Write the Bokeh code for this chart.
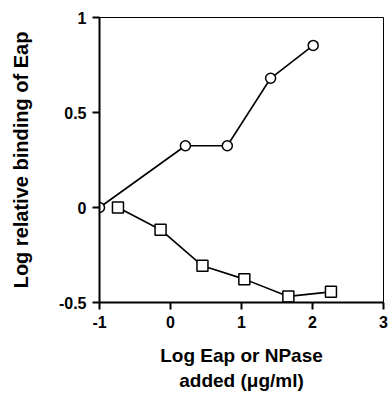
from bokeh.plotting import figure
from bokeh.models import Range1d, FixedTicker
from bokeh.embed import file_html
from bokeh.resources import INLINE

# Data
eap_x = [-1.0, 0.21, 0.80, 1.41, 2.01]
eap_y = [0.0, 0.325, 0.325, 0.68, 0.853]
npase_x = [-0.74, -0.14, 0.45, 1.04, 1.66, 2.26]
npase_y = [0.0, -0.117, -0.307, -0.377, -0.468, -0.444]

x_ticks = [-1, 0, 1, 2, 3]
x_tick_labels = ["-1", "0", "1", "2", "3"]
y_ticks = [-0.5, 0, 0.5, 1]
y_tick_labels = ["-0.5", "0", "0.5", "1"]

FONT = "Liberation Sans"

p = figure(frame_width=284, frame_height=285, output_backend="svg",
           toolbar_location=None,
           x_range=Range1d(-1, 3), y_range=Range1d(-0.5, 1),
           min_border_left=99, min_border_right=5,
           min_border_top=17, min_border_bottom=91)

p.background_fill_color = "white"
p.border_fill_color = "white"
p.outline_line_color = "black"
p.outline_line_width = 1
p.xgrid.visible = False
p.ygrid.visible = False

for ax in (p.xaxis[0], p.yaxis[0]):
    ax.axis_line_width = 2
    ax.axis_line_color = "black"
    ax.major_tick_line_width = 2
    ax.major_tick_line_color = "black"
    ax.major_tick_out = 7
    ax.major_tick_in = 0
    ax.minor_tick_line_color = None
    ax.major_label_text_font = FONT
    ax.major_label_text_font_style = "bold"
    ax.major_label_text_font_size = "16px"
    ax.major_label_text_color = "black"
    ax.axis_label_text_font = FONT
    ax.axis_label_text_font_style = "bold"
    ax.axis_label_text_font_size = "20px"
    ax.axis_label_text_color = "black"

p.xaxis[0].ticker = FixedTicker(ticks=x_ticks)
p.xaxis[0].major_label_overrides = dict(zip(x_ticks, x_tick_labels))
p.xaxis[0].major_label_standoff = 6
p.xaxis[0].axis_label = "Log Eap or NPase\nadded (\u03bcg/ml)"
p.xaxis[0].axis_label_text_font_size = "19px"
p.xaxis[0].axis_label_standoff = 14

p.yaxis[0].ticker = FixedTicker(ticks=y_ticks)
p.yaxis[0].major_label_overrides = dict(zip(y_ticks, y_tick_labels))
p.yaxis[0].major_label_standoff = 6
p.yaxis[0].major_label_orientation = "horizontal"
p.yaxis[0].axis_label = "Log relative binding of Eap"
p.yaxis[0].axis_label_standoff = 24

p.line(eap_x, eap_y, line_color="black", line_width=1.6)
p.scatter(eap_x, eap_y, marker="circle", size=10, fill_color="white",
          line_color="black", line_width=1.5)

p.line(npase_x, npase_y, line_color="black", line_width=1.6)
p.scatter(npase_x, npase_y, marker="square", size=11, fill_color="white",
          line_color="black", line_width=1.5)

open("out.html", "w").write(file_html(p, INLINE))
